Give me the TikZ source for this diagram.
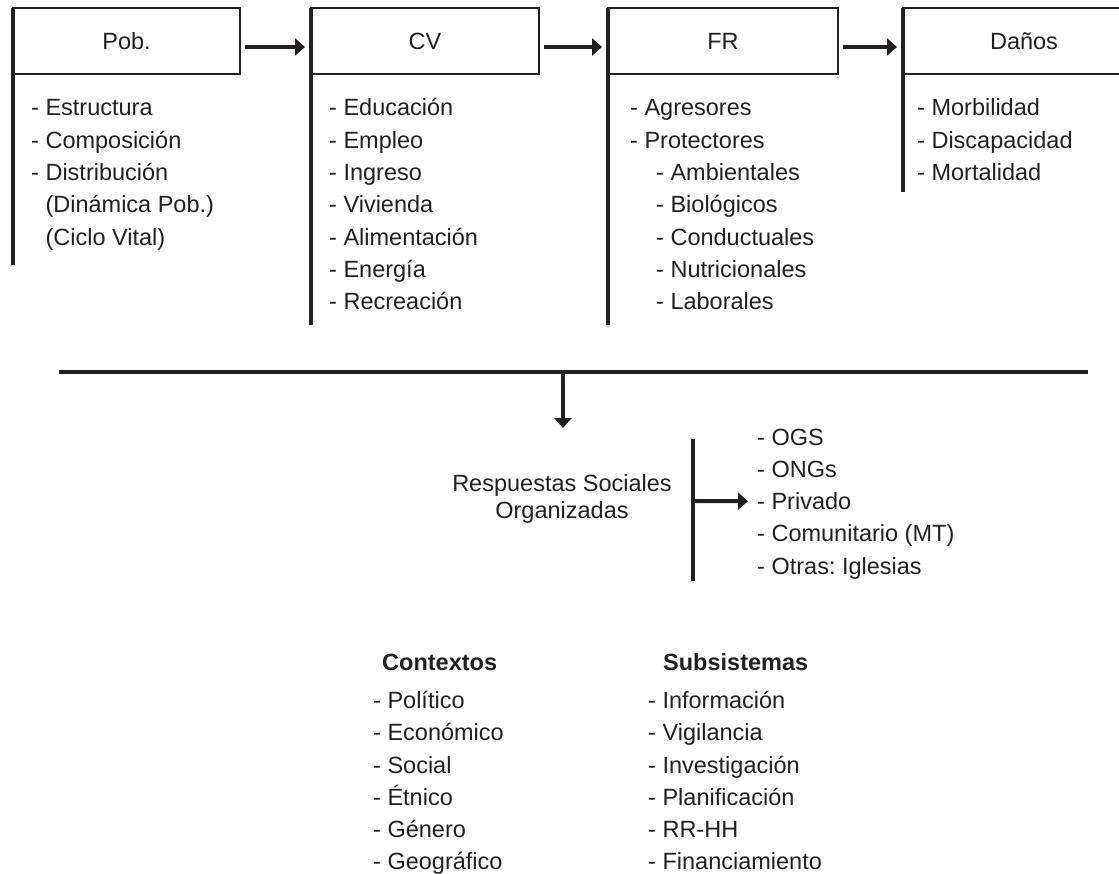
\documentclass[tikz,border=0pt]{standalone}
\usepackage{fontspec}
\setmainfont{Liberation Sans}
\usetikzlibrary{arrows.meta}
\definecolor{ink}{HTML}{231F20}
\newcommand{\listfont}{\fontsize{23.5}{28}\selectfont\frenchspacing}

\begin{document}
\begin{tikzpicture}[x=1pt, y=-1pt, every node/.style={inner sep=0pt, text=ink, font=\listfont},
  headbox/.style={draw=ink, line width=2pt, outer sep=0pt, minimum height=66pt, anchor=north west},
  stem/.style={draw=ink, line width=3.5pt},
  rule/.style={draw=ink, line width=4pt},
  flow/.style={draw=ink, line width=4pt, -{Triangle[length=10pt, width=17pt]}},
  item/.style={anchor=base west}]
  \useasboundingbox (0,0) rectangle (1119,874);
  \clip (0,0) rectangle (1119,874);

  % heading boxes
  \node[headbox, minimum width=227pt] (pob) at (13,8) {Pob.};
  \node[headbox, minimum width=228pt] (cv) at (311,8) {CV};
  \node[headbox, minimum width=230pt] (fr) at (608,8) {FR};
  \node[headbox, minimum width=242pt] (dan) at (903,8) {Daños};

  % stems below the boxes
  \coordinate (pobfoot) at (13,265);
  \coordinate (cvfoot) at (311,325);
  \coordinate (frfoot) at (608,325);
  \coordinate (danfoot) at (903,192);
  \draw[stem] (pob.north west) -- (pobfoot);
  \draw[stem] (cv.north west) -- (cvfoot);
  \draw[stem] (fr.north west) -- (frfoot);
  \draw[stem] (dan.north west) -- (danfoot);

  \draw[flow, shorten <=5pt, shorten >=6pt] ([yshift=-6pt]pob.east) -- ([yshift=-6pt]cv.west);
  \draw[flow, shorten <=5pt, shorten >=6pt] ([yshift=-6pt]cv.east) -- ([yshift=-6pt]fr.west);
  \draw[flow, shorten <=5pt, shorten >=6pt] ([yshift=-6pt]fr.east) -- ([yshift=-6pt]dan.west);

  % lists
  \foreach \t [count=\i from 0] in {- Estructura, - Composición, - Distribución, \hphantom{-\ }(Dinámica Pob.), \hphantom{-\ }(Ciclo Vital)}
    \node[item] (pob-\i) at (31,{116+32.3*\i}) {\t};
  \foreach \t [count=\i from 0] in {- Educación, - Empleo, - Ingreso, - Vivienda, - Alimentación, - Energía, - Recreación}
    \node[item] (cv-\i) at (329,{116+32.3*\i}) {\t};
  \foreach \t [count=\i from 0] in {- Agresores, - Protectores}
    \node[item] (fr-\i) at (630,{116+32.3*\i}) {\t};
  \foreach \t [count=\i from 2] in {- Ambientales, - Biológicos, - Conductuales, - Nutricionales, - Laborales}
    \node[item] (fr-\i) at (656,{116+32.3*\i}) {\t};
  \foreach \t [count=\i from 0] in {- Morbilidad, - Discapacidad, - Mortalidad}
    \node[item] (dan-\i) at (917,{116+32.3*\i}) {\t};

  % long rule and drop
  \coordinate (ruleL) at (59,372);
  \coordinate (ruleR) at (1088,372);
  \coordinate (drop) at (563,372);
  \coordinate (droptip) at (563,428);
  \draw[rule] (ruleL) -- (ruleR);
  \draw[flow] (drop) -- (droptip);

  \node[anchor=base] (rso) at (562,491) {Respuestas Sociales};
  \node[anchor=base] (rso2) at (562,518) {Organizadas};

  \coordinate (brktop) at (693,439);
  \coordinate (brkbot) at (693,581);
  \coordinate (brkmid) at (693,501);
  \draw[stem] (brktop) -- (brkbot);
  \foreach \t [count=\i from 0] in {- OGS, - ONGs, - Privado, - Comunitario (MT), - Otras: Iglesias}
    \node[item] (org-\i) at (757,{445+32.3*\i}) {\t};
  \draw[flow, shorten >=9pt] (brkmid) -- (org-2.west);

  % contexts and subsystems
  \node[item, font=\listfont\bfseries] (ctx) at (382,670) {Contextos};
  \node[item, font=\listfont\bfseries] (sub) at (663,670) {Subsistemas};
  \foreach \t [count=\i from 0] in {- Político, - Económico, - Social, - Étnico, - Género, - Geográfico}
    \node[item] (ctx-\i) at (373,{708.4+32.3*\i}) {\t};
  \foreach \t [count=\i from 0] in {- Información, - Vigilancia, - Investigación, - Planificación, - RR-HH, - Financiamiento}
    \node[item] (sub-\i) at (648,{708.4+32.3*\i}) {\t};
\end{tikzpicture}
\end{document}
